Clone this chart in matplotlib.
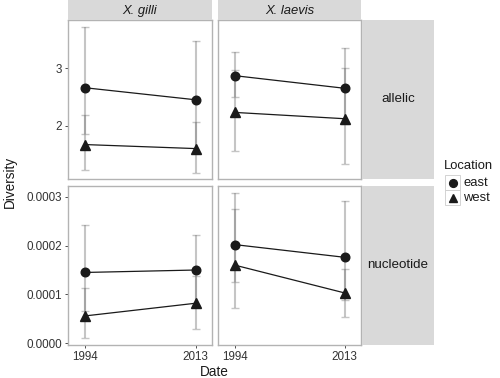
import matplotlib
matplotlib.use('Agg')
import matplotlib.pyplot as plt
from matplotlib.lines import Line2D
from matplotlib.patches import Rectangle
from matplotlib.ticker import FixedLocator, FormatStrFormatter

plt.rcParams['font.family'] = ['Liberation Sans', 'DejaVu Sans']

dates = [1994, 2013]
species = ['X. gilli', 'X. laevis']
measures = ['allelic', 'nucleotide']
locations = ['east', 'west']
markers = ['o', '^']

# allelic diversity
gilli_all_east = [2.66, 2.45]
gilli_all_east_lo = [1.85, 1.52]
gilli_all_east_hi = [3.71, 3.48]
gilli_all_west = [1.67, 1.60]
gilli_all_west_lo = [1.23, 1.18]
gilli_all_west_hi = [2.19, 2.06]
laevis_all_east = [2.87, 2.65]
laevis_all_east_lo = [2.50, 2.03]
laevis_all_east_hi = [3.29, 3.36]
laevis_all_west = [2.23, 2.12]
laevis_all_west_lo = [1.55, 1.33]
laevis_all_west_hi = [2.97, 3.00]

# nucleotide diversity
gilli_nuc_east = [0.000145, 0.000150]
gilli_nuc_east_lo = [0.000066, 0.000078]
gilli_nuc_east_hi = [0.000243, 0.000222]
gilli_nuc_west = [0.000056, 0.000082]
gilli_nuc_west_lo = [0.000011, 0.000030]
gilli_nuc_west_hi = [0.000114, 0.000138]
laevis_nuc_east = [0.000202, 0.000176]
laevis_nuc_east_lo = [0.000126, 0.000089]
laevis_nuc_east_hi = [0.000275, 0.000291]
laevis_nuc_west = [0.000160, 0.000103]
laevis_nuc_west_lo = [0.000072, 0.000054]
laevis_nuc_west_hi = [0.000307, 0.000153]

panels = {
    (0, 0): [(gilli_all_east, gilli_all_east_lo, gilli_all_east_hi, 'o'),
             (gilli_all_west, gilli_all_west_lo, gilli_all_west_hi, '^')],
    (0, 1): [(laevis_all_east, laevis_all_east_lo, laevis_all_east_hi, 'o'),
             (laevis_all_west, laevis_all_west_lo, laevis_all_west_hi, '^')],
    (1, 0): [(gilli_nuc_east, gilli_nuc_east_lo, gilli_nuc_east_hi, 'o'),
             (gilli_nuc_west, gilli_nuc_west_lo, gilli_nuc_west_hi, '^')],
    (1, 1): [(laevis_nuc_east, laevis_nuc_east_lo, laevis_nuc_east_hi, 'o'),
             (laevis_nuc_west, laevis_nuc_west_lo, laevis_nuc_west_hi, '^')],
}

W, H = 500, 378
fig = plt.figure(figsize=(5, 3.78), dpi=100)


def rect(x0, y0, x1, y1):
    return [x0 / W, 1 - y1 / H, (x1 - x0) / W, (y1 - y0) / H]


def fx(x):
    return x / W


def fy(y):
    return 1 - y / H


cols = [(68, 212), (218, 361)]
rows = [(20, 179), (186, 345)]
ylims = [(1.07, 3.84), (-0.0000035, 0.000322)]
yticks = [[2, 3], [0, 0.0001, 0.0002, 0.0003]]
border = '#B3B3B3'
strip_bg = '#D9D9D9'
ink = '#1A1A1A'
msize = {'o': 6.2, '^': 6.8}

for r in range(2):
    for c in range(2):
        ax = fig.add_axes(rect(cols[c][0], rows[r][0], cols[c][1], rows[r][1]))
        for mean, lo, hi, mk in panels[(r, c)]:
            yerr = [[m - l for m, l in zip(mean, lo)], [h - m for m, h in zip(mean, hi)]]
            ax.errorbar(dates, mean, yerr=yerr, fmt='none', ecolor='#808080',
                        alpha=0.45, elinewidth=1.5, capsize=2.6, capthick=1.0)
            ax.plot(dates, mean, color=ink, lw=0.9, zorder=3)
            ax.plot(dates, mean, linestyle='none', marker=mk, color=ink,
                    markersize=msize[mk], zorder=4)
        ax.set_xlim(1994 - 2.9, 2013 + 2.8)
        ax.set_ylim(*ylims[r])
        ax.xaxis.set_major_locator(FixedLocator(dates))
        ax.yaxis.set_major_locator(FixedLocator(yticks[r]))
        if r == 1:
            ax.yaxis.set_major_formatter(FormatStrFormatter('%.4f'))
        for s in ax.spines.values():
            s.set_color(border)
            s.set_linewidth(1.0)
        ax.tick_params(direction='out', length=2.5, width=0.7, color='#4D4D4D',
                       labelsize=8.4, labelcolor='#333333', pad=2)
        if r == 0:
            ax.tick_params(axis='x', bottom=False, labelbottom=False)
        if c == 1:
            ax.tick_params(axis='y', left=False, labelleft=False)

# top strips
for c in range(2):
    sax = fig.add_axes(rect(cols[c][0], 0, cols[c][1], rows[0][0]))
    sax.set_facecolor(strip_bg)
    sax.set_xticks([])
    sax.set_yticks([])
    for s in sax.spines.values():
        s.set_visible(False)
    sax.text(0.5, 0.45, species[c], style='italic', ha='center', va='center',
             fontsize=9.4, color='#1A1A1A', transform=sax.transAxes)

# right strips
for r in range(2):
    sax = fig.add_axes(rect(362, rows[r][0], 434, rows[r][1]))
    sax.set_facecolor(strip_bg)
    sax.set_xticks([])
    sax.set_yticks([])
    for s in sax.spines.values():
        s.set_visible(False)
    sax.text(0.5, 0.5, measures[r], ha='center', va='center',
             fontsize=9.6, color='#1A1A1A', transform=sax.transAxes)

fig.text(fx(10), fy(182), 'Diversity', rotation=90, ha='center', va='center',
         fontsize=9.8, color='#1A1A1A')
fig.text(fx(214), fy(372), 'Date', ha='center', va='center',
         fontsize=9.8, color='#1A1A1A')

# legend
fig.text(fx(444), fy(166), 'Location', ha='left', va='center',
         fontsize=9.4, color='#1A1A1A')
for i, (lab, mk) in enumerate(zip(locations, markers)):
    top = 175 + 15.5 * i
    fig.add_artist(Rectangle((fx(445), fy(top + 15)), 15 / W, 15 / H,
                             transform=fig.transFigure, facecolor='white',
                             edgecolor='#CCCCCC', linewidth=0.6))
    fig.add_artist(Line2D([fx(452.5)], [fy(top + 7.5)], transform=fig.transFigure,
                          linestyle='none', marker=mk, color=ink,
                          markersize=msize[mk] - 0.6))
    fig.text(fx(463), fy(top + 7.8), lab, ha='left', va='center',
             fontsize=9.4, color='#1A1A1A')

fig.savefig('out.png', dpi=100)
